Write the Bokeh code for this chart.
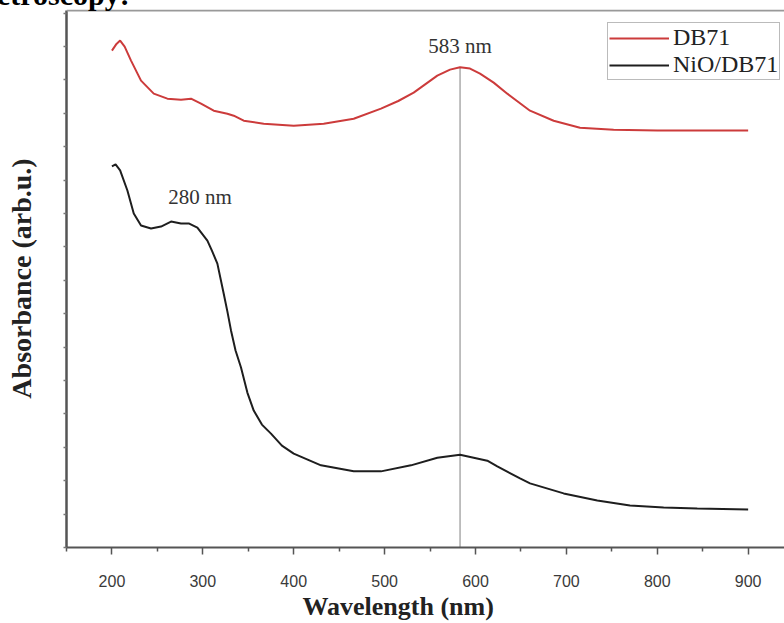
from bokeh.plotting import figure
from bokeh.models import Range1d, FixedTicker, Legend, LegendItem, Span, Title, Div
from bokeh.layouts import column
from bokeh.core.properties import value
from bokeh.embed import file_html
from bokeh.resources import INLINE

# DB71 spectrum (wavelength nm, absorbance arb.u.)
db71_wl = [200, 205, 209, 214, 221, 232, 246, 261, 276, 287, 298, 312, 327, 334, 345, 367,
           400, 433, 466, 496, 515, 532, 558, 572, 583, 594, 605, 620, 635, 660, 686, 715,
           752, 800, 850, 900]
db71_abs = [14.88, 15.08, 15.18, 15.00, 14.58, 13.98, 13.59, 13.44, 13.41, 13.44, 13.29, 13.08,
            12.99, 12.93, 12.78, 12.69, 12.63, 12.69, 12.84, 13.14, 13.37, 13.62, 14.13, 14.31,
            14.38, 14.34, 14.19, 13.92, 13.59, 13.08, 12.78, 12.57, 12.51, 12.49, 12.49, 12.49]

# NiO/DB71 spectrum
nio_wl = [200, 204, 209, 217, 224, 232, 243, 254, 265, 276, 285, 294, 305, 310, 316, 323, 327,
          331, 336, 342, 349, 356, 365, 375, 387, 400, 430, 466, 496, 529, 558, 583, 613, 624,
          649, 660, 697, 734, 770, 807, 844, 900]
nio_abs = [11.41, 11.47, 11.29, 10.69, 10.00, 9.64, 9.55, 9.61, 9.76, 9.70, 9.70, 9.58, 9.19,
           8.89, 8.50, 7.60, 7.07, 6.50, 5.90, 5.39, 4.64, 4.10, 3.68, 3.41, 3.05, 2.81, 2.46,
           2.28, 2.28, 2.46, 2.69, 2.78, 2.60, 2.43, 2.07, 1.92, 1.62, 1.41, 1.26, 1.20, 1.17,
           1.14]

x_major = [200, 300, 400, 500, 600, 700, 800, 900]
x_minor = [150, 250, 350, 450, 550, 650, 750, 850, 950]
y_ticks = list(range(0, 17))

peak_wl = 583
peak_abs = 14.38
ann_labels = ["583 nm", "280 nm"]
ann_x = [583, 297]
ann_y = [15.03, 10.51]

X0, X1 = 150, 940
Y0, Y1 = 0, 16.11
Y_TOP = 16.08

p = figure(width=784, height=623, output_backend="svg", toolbar_location=None,
           x_range=Range1d(X0, X1), y_range=Range1d(Y0, Y1),
           min_border_left=66, min_border_right=0, min_border_top=9, min_border_bottom=76)
p.outline_line_color = None
p.background_fill_color = "white"
p.border_fill_color = "white"
p.grid.visible = False

# x axis
xa = p.xaxis[0]
xa.ticker = FixedTicker(ticks=x_major, minor_ticks=x_minor)
xa.axis_line_color = "#555555"
xa.axis_line_width = 2
xa.major_tick_line_color = "#555555"
xa.major_tick_line_width = 1.5
xa.major_tick_out = 7
xa.major_tick_in = 0
xa.minor_tick_line_color = "#555555"
xa.minor_tick_line_width = 1.5
xa.minor_tick_out = 4
xa.minor_tick_in = 0
xa.major_label_text_font = "Liberation Sans"
xa.major_label_text_font_size = "16px"
xa.major_label_text_color = "#3a3a3a"
xa.major_label_standoff = 20

# y axis: unlabeled ticks
ya = p.yaxis[0]
ya.ticker = FixedTicker(ticks=[], minor_ticks=y_ticks)
ya.bounds = (Y0, Y_TOP)
ya.axis_line_color = "#555555"
ya.axis_line_width = 2.5
ya.minor_tick_line_color = "#777777"
ya.minor_tick_line_width = 1.5
ya.minor_tick_out = 3
ya.minor_tick_in = 0
ya.major_label_standoff = 0
ya.axis_label = "Absorbance (arb.u.)"
ya.axis_label_standoff = 27
ya.axis_label_text_font = "Liberation Serif"
ya.axis_label_text_font_style = "bold"
ya.axis_label_text_font_size = "28px"
ya.axis_label_text_color = "#222222"

# x axis title
p.add_layout(Title(text="Wavelength (nm)", align="left", offset=236, standoff=1,
                   text_font="Liberation Serif", text_font_style="bold",
                   text_font_size="26px", text_color="#222222"), "below")

# top frame border
p.add_layout(Span(location=Y_TOP, dimension="width", line_color="#999999", line_width=2))

# vertical marker line at peak
p.segment(x0=[peak_wl], y0=[Y0], x1=[peak_wl], y1=[peak_abs], line_color="#808080", line_width=1)

r1 = p.line(db71_wl, db71_abs, line_color="#cc3b3b", line_width=2)
r2 = p.line(nio_wl, nio_abs, line_color="#1e1e1e", line_width=2)

p.text(x=ann_x, y=ann_y, text=ann_labels, text_font=value("Liberation Serif"),
       text_font_size="21px", text_color="#333333", text_align="center", text_baseline="middle")

legend = Legend(items=[LegendItem(label="DB71", renderers=[r1]),
                       LegendItem(label="NiO/DB71", renderers=[r2])],
                location=(541, 467), orientation="vertical")
legend.border_line_color = "#777777"
legend.border_line_width = 1
legend.background_fill_alpha = 1
legend.label_text_font = "Liberation Serif"
legend.label_text_font_size = "24px"
legend.label_text_color = "#222222"
legend.glyph_width = 60
legend.glyph_height = 24
legend.label_height = 24
legend.label_standoff = 4
legend.spacing = 0
legend.padding = 1
legend.margin = 0
p.add_layout(legend)

# caption fragment cut at the top of the picture
caption = Div(text="etroscopy:", styles={
    "position": "absolute", "top": "-20px", "left": "-3px", "margin": "0", "padding": "0",
    "font-family": "Liberation Serif", "font-weight": "bold", "font-size": "30px",
    "line-height": "30px", "white-space": "nowrap", "color": "black", "z-index": "10"})

layout = column(caption, p, spacing=0)
open("out.html", "w").write(file_html(layout, INLINE))
